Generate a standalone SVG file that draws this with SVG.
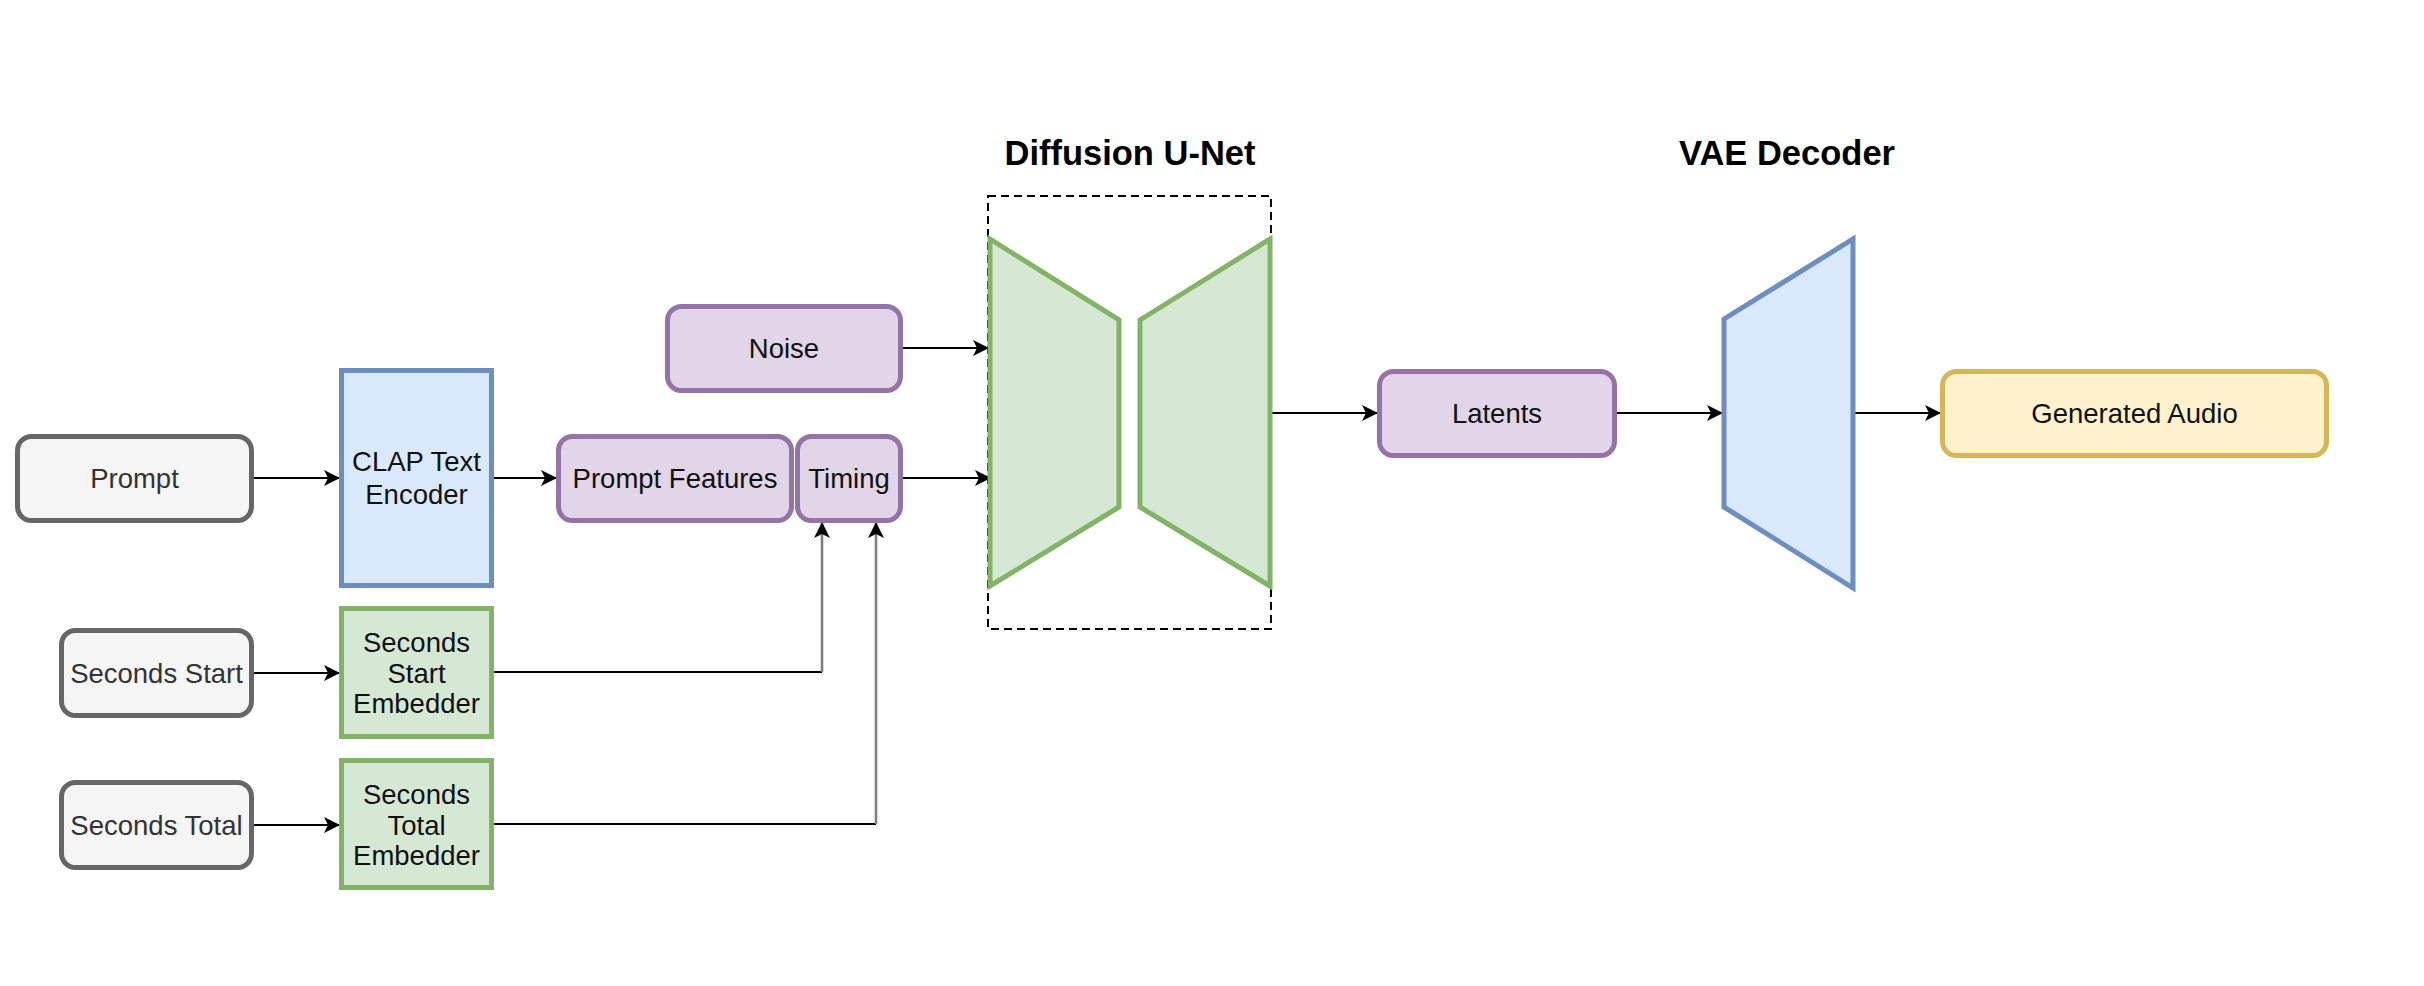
<svg xmlns="http://www.w3.org/2000/svg" width="2424" height="986" viewBox="0 0 2424 986">
<style>
  .lbl { font-family: "Liberation Sans", Arial, Helvetica, sans-serif; font-size: 27.5px; fill: #111111; text-anchor: middle; }
  .lbl-gray { fill: #333333; }
  .title { font-family: "Liberation Sans", Arial, Helvetica, sans-serif; font-size: 34.5px; font-weight: bold; fill: #000000; text-anchor: middle; }
  .gray { fill: #f5f5f5; stroke: #666666; stroke-width: 5; }
  .blue { fill: #dae8fc; stroke: #6c8ebf; stroke-width: 5; }
  .green { fill: #d5e8d4; stroke: #82b366; stroke-width: 5; }
  .purple { fill: #e1d5e7; stroke: #9673a6; stroke-width: 5; }
  .yellow { fill: #fff2cc; stroke: #d6b656; stroke-width: 5; }
  .edge { fill: none; stroke: #000000; stroke-width: 2.2; }
  .edge-v { fill: none; stroke: #7f7f7f; stroke-width: 2.6; }
</style>
<defs>
  <marker id="arr" viewBox="0 0 16 16" refX="15" refY="8" markerWidth="16" markerHeight="16" markerUnits="userSpaceOnUse" orient="auto">
    <path d="M0,0 L16,8 L0,16 L4,8 Z" fill="#000000"/>
  </marker>
</defs>
<rect x="0" y="0" width="2424" height="986" fill="#ffffff"/>

<g id="unet-frame">
  <rect x="988" y="196" width="283" height="433" fill="none" stroke="#000000" stroke-width="2" stroke-dasharray="8 5"/>
  <text class="title" x="1130" y="165">Diffusion U-Net</text>
</g>

<g id="vae-title">
  <text class="title" x="1787" y="165">VAE Decoder</text>
</g>

<g id="connectors">
  <path class="edge" d="M252,478 H339" marker-end="url(#arr)"/>
  <path class="edge" d="M494,478 H556" marker-end="url(#arr)"/>
  <path class="edge" d="M903,348 H988" marker-end="url(#arr)"/>
  <path class="edge" d="M903,478 H990" marker-end="url(#arr)"/>
  <path class="edge" d="M254,673 H339" marker-end="url(#arr)"/>
  <path class="edge" d="M254,825 H339" marker-end="url(#arr)"/>
  <path class="edge" d="M494,672 H822"/>
  <path class="edge-v" d="M822,672 V523" marker-end="url(#arr)"/>
  <path class="edge" d="M494,824 H876"/>
  <path class="edge-v" d="M876,824 V523" marker-end="url(#arr)"/>
  <path class="edge" d="M1272,413 H1377" marker-end="url(#arr)"/>
  <path class="edge" d="M1617,413 H1722" marker-end="url(#arr)"/>
  <path class="edge" d="M1855,413 H1940" marker-end="url(#arr)"/>
</g>

<g id="prompt">
  <rect class="gray" x="17.5" y="436.5" width="234" height="84" rx="14"/>
  <text class="lbl lbl-gray" x="134.5" y="488">Prompt</text>
</g>

<g id="clap">
  <rect class="blue" x="341.5" y="370.5" width="150" height="215"/>
  <text class="lbl" x="416.5" y="471">CLAP Text</text>
  <text class="lbl" x="416.5" y="504">Encoder</text>
</g>

<g id="prompt-features">
  <rect class="purple" x="558.5" y="436.5" width="233" height="84" rx="14"/>
  <text class="lbl" x="675" y="488">Prompt Features</text>
</g>

<g id="timing">
  <rect class="purple" x="797.5" y="436.5" width="103" height="84" rx="14"/>
  <text class="lbl" x="849" y="488">Timing</text>
</g>

<g id="noise">
  <rect class="purple" x="667.5" y="306.5" width="233" height="84" rx="14"/>
  <text class="lbl" x="784" y="358">Noise</text>
</g>

<g id="seconds-start">
  <rect class="gray" x="61.5" y="630.5" width="190" height="85" rx="14"/>
  <text class="lbl lbl-gray" x="156.5" y="682.5">Seconds Start</text>
</g>

<g id="seconds-start-embedder">
  <rect class="green" x="341.5" y="608.5" width="150" height="128"/>
  <text class="lbl" x="416.5" y="652">Seconds</text>
  <text class="lbl" x="416.5" y="682.5">Start</text>
  <text class="lbl" x="416.5" y="713">Embedder</text>
</g>

<g id="seconds-total">
  <rect class="gray" x="61.5" y="782.5" width="190" height="85" rx="14"/>
  <text class="lbl lbl-gray" x="156.5" y="834.5">Seconds Total</text>
</g>

<g id="seconds-total-embedder">
  <rect class="green" x="341.5" y="760.5" width="150" height="127"/>
  <text class="lbl" x="416.5" y="804">Seconds</text>
  <text class="lbl" x="416.5" y="834.5">Total</text>
  <text class="lbl" x="416.5" y="865">Embedder</text>
</g>

<g id="unet-encoder">
  <polygon class="green" points="990,239 1119,320 1119,507 990,586"/>
</g>

<g id="unet-decoder">
  <polygon class="green" points="1140,320 1270,239 1270,586 1140,507"/>
</g>

<g id="latents">
  <rect class="purple" x="1379.5" y="371.5" width="235" height="84" rx="14"/>
  <text class="lbl" x="1497" y="423">Latents</text>
</g>

<g id="vae-decoder">
  <polygon class="blue" points="1724,319 1853,239 1853,588 1724,507"/>
</g>

<g id="generated-audio">
  <rect class="yellow" x="1942.5" y="371.5" width="384" height="84" rx="14"/>
  <text class="lbl" x="2134.5" y="423">Generated Audio</text>
</g>
</svg>
